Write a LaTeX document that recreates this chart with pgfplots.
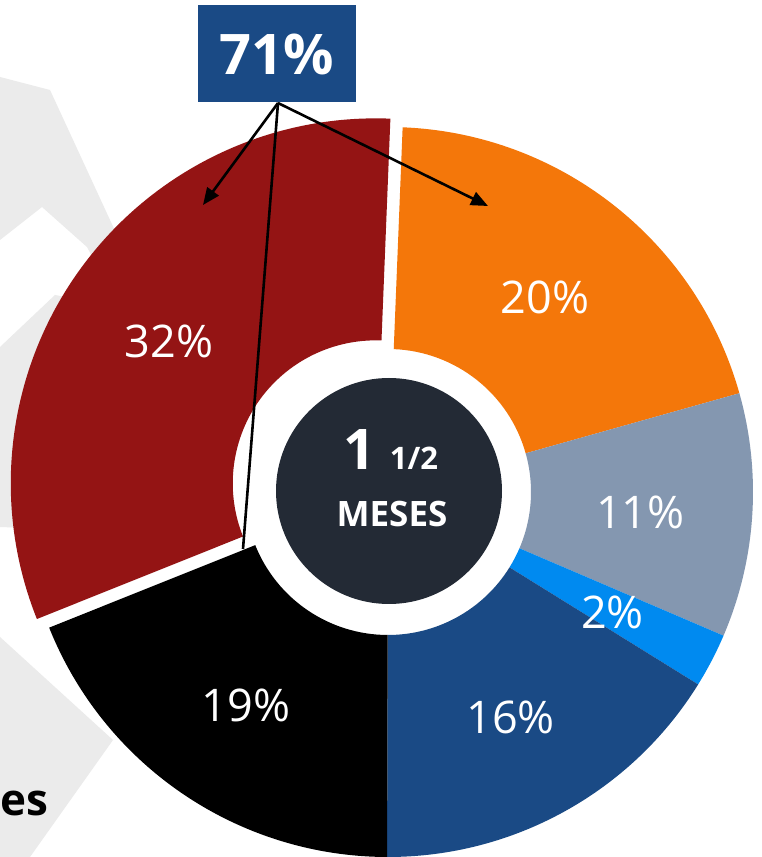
\documentclass[border=0pt]{standalone}
\usepackage{pgfplots}
\pgfplotsset{compat=1.18}
\usepackage{pgfplotstable}
\usetikzlibrary{arrows.meta}
\usepackage{fontspec}
\setmainfont{Open Sans}

\definecolor{cOrange}{HTML}{F4770A}
\definecolor{cGray}{HTML}{8497B0}
\definecolor{cLight}{HTML}{008AF0}
\definecolor{cDark}{HTML}{1A4A85}
\definecolor{cBlack}{HTML}{000000}
\definecolor{cRed}{HTML}{941414}
\definecolor{cCenter}{HTML}{232A35}
\definecolor{cMark}{HTML}{EBEBEB}

\newcommand\pctfont{\fontsize{45}{50}\selectfont}

% slice values (percent), colour, explode offset (pt)
\pgfplotstableread{
value colour explode
20.0 cOrange 0
10.8 cGray 0
2.4 cLight 0
16.2 cDark 0
18.9 cBlack 0
31.7 cRed 15
}\slices

\begin{document}
\begin{tikzpicture}
\def\Cx{388}\def\Cy{365}\def\Ro{365}\def\Ri{143}\def\Rl{253}
\def\angA{87.7}
\gdef\slicecode{}
\gdef\labelcode{}
\pgfplotstablegetrowsof{\slices}
\pgfmathtruncatemacro\lastrow{\pgfplotsretval-1}
\pgfplotsforeachungrouped \i in {0,...,\lastrow}{%
  \pgfplotstablegetelem{\i}{value}\of\slices \let\v\pgfplotsretval
  \pgfplotstablegetelem{\i}{colour}\of\slices \let\col\pgfplotsretval
  \pgfplotstablegetelem{\i}{explode}\of\slices \let\ex\pgfplotsretval
  \pgfmathsetmacro\angB{\angA-3.6*\v}%
  \pgfmathsetmacro\mid{(\angA+\angB)/2}%
  \pgfmathsetmacro\cx{\Cx+\ex*cos(\mid)}%
  \pgfmathsetmacro\cy{\Cy+\ex*sin(\mid)}%
  \pgfmathsetmacro\ax{\cx+\Ro*cos(\angA)}%
  \pgfmathsetmacro\ay{\cy+\Ro*sin(\angA)}%
  \pgfmathsetmacro\bx{\cx+\Ri*cos(\angB)}%
  \pgfmathsetmacro\by{\cy+\Ri*sin(\angB)}%
  \pgfmathsetmacro\lx{\cx+\Rl*cos(\mid)}%
  \pgfmathsetmacro\ly{\cy+\Rl*sin(\mid)-4}%
  \xdef\slicecode{\unexpanded\expandafter{\slicecode}%
    \noexpand\fill[\col] (axis cs:\ax,\ay) arc[start angle=\angA, end angle=\angB, radius=\Ro pt]
      -- (axis cs:\bx,\by) arc[start angle=\angB, end angle=\angA, radius=\Ri pt] -- cycle;}%
  \xdef\labelcode{\unexpanded\expandafter{\labelcode}%
    \noexpand\node[text=white, inner sep=0pt, font=\noexpand\pctfont] at (axis cs:\lx,\ly) {\noexpand\pgfmathprintnumber[fixed,precision=0,assume math mode=true]{\v}\noexpand\%};}%
  \global\let\angA\angB
}
\begin{axis}[
  x=1pt, y=1pt, xmin=0, xmax=761, ymin=0, ymax=857,
  hide axis, clip=true, clip bounding box=upper bound,
]
\fill[white] (axis cs:0,0) rectangle (axis cs:761,857);
% watermark
\fill[cMark] (axis cs:0,780) -- (axis cs:50,767) -- (axis cs:140,572) -- (axis cs:110,567) -- (axis cs:87,610) -- (axis cs:42,650) -- (axis cs:0,617) -- cycle;
\fill[cMark] (axis cs:0,510) -- (axis cs:55,562) -- (axis cs:80,557) -- (axis cs:80,327) -- (axis cs:0,330) -- cycle;
\fill[cMark] (axis cs:0,220) -- (axis cs:113,117) -- (axis cs:30,0) -- (axis cs:0,0) -- cycle;
% slices
\slicecode
% centre disc
\fill[cCenter] (axis cs:389,366) circle[radius=113pt];
\node[anchor=base, text=white, inner sep=0pt] at (axis cs:391,387)
  {\bfseries{\fontsize{56}{60}\selectfont 1}\hspace{14pt}{\fontsize{31}{34}\selectfont 1/2}};
\node[anchor=base, text=white, inner sep=0pt, font=\bfseries\fontsize{35}{38}\selectfont] at (axis cs:392,330) {MESES};
% connector lines
\draw[line width=2.6pt, -{Triangle[length=17pt,width=14pt]}] (axis cs:278,754) -- (axis cs:203,652);
\draw[line width=2.6pt, -{Triangle[length=17pt,width=14pt]}] (axis cs:278,754) -- (axis cs:488,651);
\draw[line width=2.6pt] (axis cs:278,754) -- (axis cs:243,308);
% 71% box
\fill[cDark] (axis cs:198,755) rectangle (axis cs:356,852);
\node[text=white, inner sep=0pt, font=\bfseries\fontsize{56}{60}\selectfont] at (axis cs:277,803) {71\%};
% labels
\labelcode
\node[anchor=base west, inner sep=0pt, font=\bfseries\fontsize{44}{48}\selectfont] at (axis cs:0,41) {es};
\end{axis}
\end{tikzpicture}
\end{document}
